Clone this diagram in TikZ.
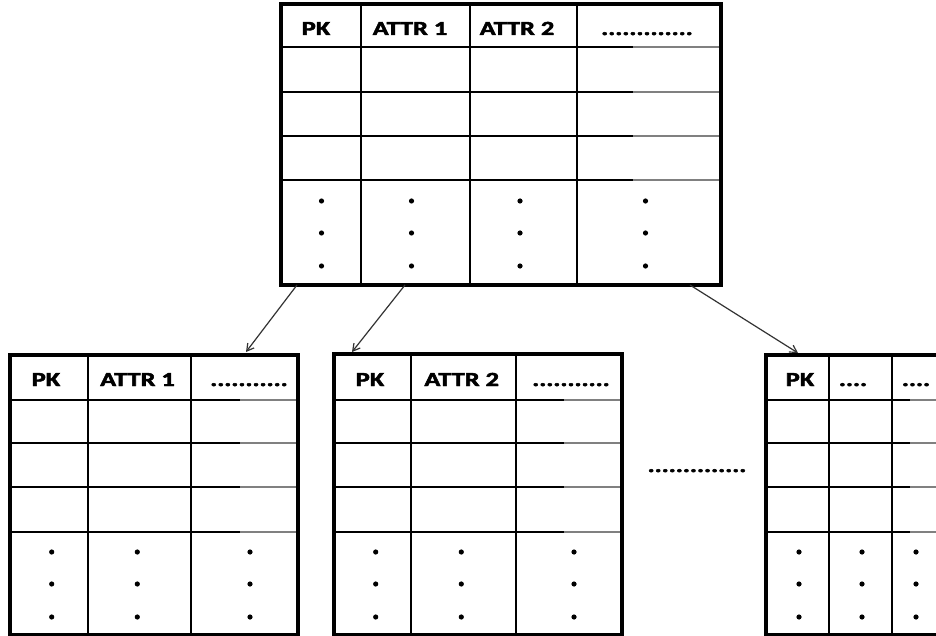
\documentclass[tikz,border=0pt]{standalone}
\usepackage{fontspec}
\usepackage{graphicx}
\setmainfont{Carlito}
\newfontfamily\hdrfont[FakeBold=2.2]{Carlito Bold}
\usetikzlibrary{arrows.meta}
\newcommand\wide[1]{\scalebox{1.32}[1]{#1}}
\begin{document}
\begin{tikzpicture}[x=1pt,y=-1pt,
  frame/.style={draw, line width=4pt, inner sep=0pt, outer sep=0pt, anchor=north west},
  grid/.style={line width=1.9pt},
  fade/.style={line width=1.9pt, draw=black!50},
  hdr/.style={font=\fontsize{20}{24}\hdrfont, inner sep=0pt, anchor=base},
  link/.style={draw=black!80, line width=1.2pt, -{Straight Barb[length=7pt,width=8pt]}},
]
\clip (0,0) rectangle (936,636);
\fill[white] (0,0) rectangle (936,636);

% ---- main table ----
\foreach \x in {361,470,577} \draw[grid] (\x,4) -- (\x,285);
\foreach \y in {47,92,136,180} {
  \draw[grid] (281,\y) -- (633,\y);
  \draw[fade] (633,\y) -- (721,\y);
}
\node[frame, minimum width=440pt, minimum height=281pt] (top) at (281,4) {};
\node[hdr] (t1) at (316,35) {\wide{PK}};
\node[hdr] (t2) at (410,35) {\wide{ATTR 1}};
\node[hdr] (t3) at (517,35) {\wide{ATTR 2}};
\node[hdr] (t4) at (647,35) {\wide{.............}};
\foreach \x in {321.5,411.5,520,645.5}
  \foreach \y in {201,233,266}
    \fill (\x,\y) circle[radius=2.6];

% ---- first sub-table ----
\foreach \x in {88,191} \draw[grid] (\x,355) -- (\x,635);
\foreach \y in {400,443,487,532} {
  \draw[grid] (10,\y) -- (240,\y);
  \draw[fade] (240,\y) -- (298,\y);
}
\node[frame, minimum width=288pt, minimum height=280pt] (bl) at (10,355) {};
\node[hdr] (l1) at (46,386) {\wide{PK}};
\node[hdr] (l2) at (137.5,386) {\wide{ATTR 1}};
\node[hdr] (l3) at (249,386) {\wide{...........}};
\foreach \x in {51.7,137.3,250}
  \foreach \y in {552,584,617}
    \fill (\x,\y) circle[radius=2.6];

% ---- second sub-table ----
\foreach \x in {411,516} \draw[grid] (\x,354) -- (\x,635);
\foreach \y in {400,443,487,532} {
  \draw[grid] (334,\y) -- (564,\y);
  \draw[fade] (564,\y) -- (622,\y);
}
\node[frame, minimum width=288pt, minimum height=281pt] (bm) at (334,354) {};
\node[hdr] (m1) at (370,386) {\wide{PK}};
\node[hdr] (m2) at (461.7,386) {\wide{ATTR 2}};
\node[hdr] (m3) at (571,386) {\wide{...........}};
\foreach \x in {375.7,461.3,574}
  \foreach \y in {552,584,617}
    \fill (\x,\y) circle[radius=2.6];

% ---- gap marker ----
\node[hdr] (gap) at (697,472) {\wide{..............}};

% ---- last sub-table ----
\foreach \x in {829,892} \draw[grid] (\x,355) -- (\x,635);
\foreach \y in {400,443,487,532} {
  \draw[grid] (766,\y) -- (910,\y);
  \draw[fade] (910,\y) -- (960,\y);
}
\node[frame, minimum width=190pt, minimum height=280pt] (br) at (766,355) {};
\node[hdr] (r1) at (800,386) {\wide{PK}};
\node[hdr] (r2) at (853,386) {\wide{....}};
\node[hdr] (r3) at (916,386) {\wide{....}};
\foreach \x in {799,862,916}
  \foreach \y in {552,584,617}
    \fill (\x,\y) circle[radius=2.6];

% ---- links ----
\draw[link] ([xshift=16pt]top.south west) -- ([xshift=236pt,yshift=3pt]bl.north west);
\draw[link] ([xshift=124pt]top.south west) -- ([xshift=18pt,yshift=2pt]bm.north west);
\draw[link] ([xshift=409pt]top.south west) -- ([xshift=32pt,yshift=2pt]br.north west);
\end{tikzpicture}
\end{document}
